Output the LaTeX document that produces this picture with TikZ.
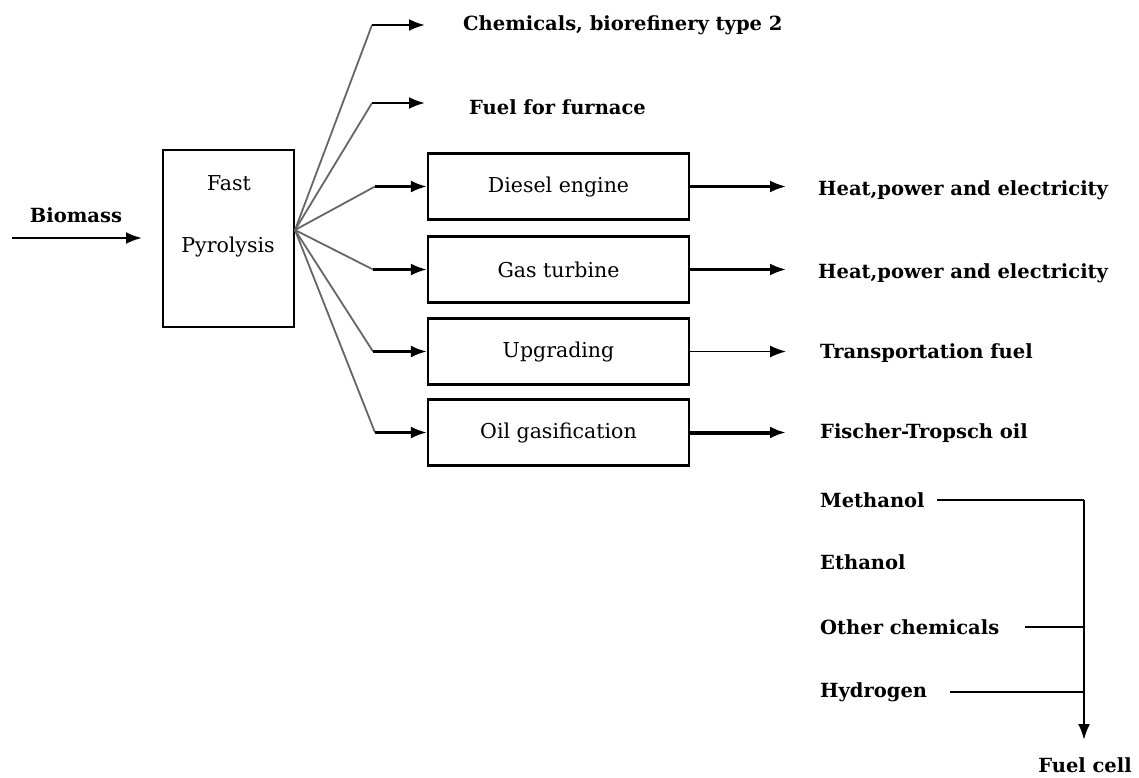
\documentclass[tikz,border=0pt]{standalone}
\usepackage{fontspec}
\setmainfont{DejaVu Serif}
\usetikzlibrary{arrows.meta}

\tikzset{
  unit/.style={draw, line width=2.4pt, minimum width=261, minimum height=66, font=\fontsize{20.5}{24}\selectfont},
  lbl/.style={anchor=west, inner sep=0pt, font=\fontsize{19.5}{23}\selectfont\bfseries},
  branch/.style={draw=black!60, line width=1.8pt},
  feed/.style={->, line width=2.4pt},
}

\begin{document}
\begin{tikzpicture}[x=1pt, y=-1pt, >={Latex[length=16pt,width=12pt]}]
\useasboundingbox (0,0) rectangle (1139,778);

% pyrolysis reactor
\node[lbl, anchor=center] (bio) at (76,215) {Biomass};
\coordinate (bioin) at (12,238);
\coordinate (bioout) at (142,238);
\draw[feed] (bioin) -- (bioout);
\node[draw, line width=2.4pt, minimum width=131, minimum height=177] (pyro) at (228.5,238.5) {};
\node[font=\fontsize{20.5}{24}\selectfont] (fast) at (229,183) {Fast};
\node[font=\fontsize{20.5}{24}\selectfont] (pyr) at (228,247) {Pyrolysis};
\coordinate (fan) at (295,230);

% direct products
\node[lbl] (chem) at (463,25) {Chemicals, biorefinery type 2};
\node[lbl] (furn) at (469,107) {Fuel for furnace};

% conversion units
\node[unit] (diesel) at (558.5,186.5) {Diesel engine};
\node[unit] (gas) at (558.5,269.5) {Gas turbine};
\node[unit] (upg) at (558.5,351.5) {Upgrading};
\node[unit] (oilgas) at (558.5,432.5) {Oil gasification};

% fan out
\coordinate (k1) at (372,25);
\coordinate (k2) at (372,103);
\coordinate (k3) at (375,186.5);
\coordinate (k4) at (373,269.5);
\coordinate (k5) at (373,351.5);
\coordinate (k6) at (375,432.5);
\coordinate (c1) at (425,25);
\coordinate (c2) at (425,103);
\draw[branch] (fan) -- (k1);
\draw[branch] (fan) -- (k2);
\draw[branch] (fan) -- (k3);
\draw[branch] (fan) -- (k4);
\draw[branch] (fan) -- (k5);
\draw[branch] (fan) -- (k6);
\draw[feed] (k1) -- (c1);
\draw[feed] (k2) -- (c2);
\draw[feed] (k3) -- (diesel.west);
\draw[feed] (k4) -- (gas.west);
\draw[feed] (k5) -- (upg.west);
\draw[feed] (k6) -- (oilgas.west);

% end products
\node[lbl] (heat1) at (818,190) {Heat,power and electricity};
\node[lbl] (heat2) at (818,273) {Heat,power and electricity};
\node[lbl] (trans) at (820,353) {Transportation fuel};
\node[lbl] (ft) at (820,433) {Fischer-Tropsch oil};
\coordinate (o1) at (786,186.5);
\coordinate (o2) at (786,269.5);
\coordinate (o3) at (786,351.5);
\coordinate (o4) at (786,432.5);
\draw[feed] (diesel.east) -- (o1);
\draw[feed] (gas.east) -- (o2);
\draw[->, line width=1.5pt] (upg.east) -- (o3);
\draw[->, line width=4pt] (oilgas.east) -- (o4);

% fuel cell feeds
\node[lbl] (meth) at (820,500) {Methanol};
\node[lbl] (eth) at (820,562) {Ethanol};
\node[lbl] (other) at (820,627) {Other chemicals};
\node[lbl] (hyd) at (820,692) {Hydrogen};
\node[lbl, anchor=center] (fcell) at (1085,765) {Fuel cell};
\coordinate (m1) at (937,500);
\coordinate (m2) at (1025,627);
\coordinate (m3) at (950,692);
\coordinate (j1) at (1084,500);
\coordinate (j2) at (1084,627);
\coordinate (j3) at (1084,692);
\coordinate (fin) at (1084,740);
\draw[line width=2.4pt] (m1) -- (j1);
\draw[line width=1.8pt] (m2) -- (j2);
\draw[line width=1.5pt] (m3) -- (j3);
\draw[feed] (j1) -- (fin);

\end{tikzpicture}
\end{document}
